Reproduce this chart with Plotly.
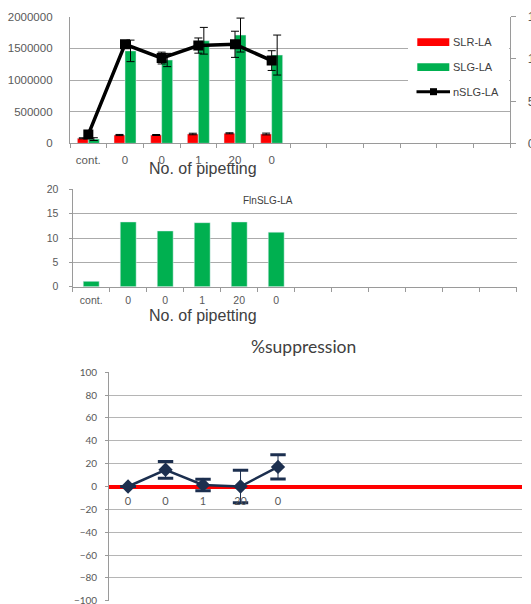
import plotly.graph_objects as go

# ---- data ----
categories = ["cont.", "0", "0", "1", "20", "0"]
slr = [79000, 131000, 131000, 147000, 158000, 147000]
slr_err = [8000, 9000, 8000, 12000, 8000, 14000]
slg = [66000, 1460000, 1316000, 1620000, 1710000, 1394000]
slg_err = [22000, 170000, 105000, 211000, 268000, 316000]
nslg = [1.05, 11.73, 10.1, 11.58, 11.73, 9.8]
nslg_err = [0.3, 0.4, 0.7, 0.9, 1.55, 1.17]

fln_slg = [1.1, 13.3, 11.45, 13.15, 13.3, 11.2]

supp_labels = ["0", "0", "1", "20", "0"]
supp = [0, 14.65, 1.35, 0, 17.15]
supp_err = [0, 7.35, 5.1, 14.2, 10.65]

W, H = 531, 604


def px(x):
    return x / W


def py(y):
    return 1 - y / H


GRID = "#ababab"
AXIS = "#9a9a9a"
TICKC = "#595959"
NAVY = "#1c2f4f"

xs_top = list(range(len(categories)))
xs_bot = list(range(len(supp_labels)))

fig = go.Figure()

# ---- top panel: SLR / SLG bars, nSLG line on secondary axis ----
fig.add_trace(go.Bar(
    x=xs_top, y=slr, name="SLR-LA", marker_color="#ff0000",
    error_y=dict(type="data", array=slr_err, color="black", thickness=1, width=4),
    xaxis="x", yaxis="y"))
fig.add_trace(go.Bar(
    x=xs_top, y=slg, name="SLG-LA", marker_color="#00b050",
    error_y=dict(type="data", array=slg_err, color="black", thickness=1, width=4),
    xaxis="x", yaxis="y"))
fig.add_trace(go.Scatter(
    x=xs_top, y=nslg, name="nSLG-LA", mode="lines+markers",
    line=dict(color="black", width=3.5),
    marker=dict(symbol="square", size=10, color="black"),
    error_y=dict(type="data", array=nslg_err, color="black", thickness=1, width=4),
    xaxis="x", yaxis="y2"))

# ---- middle panel: FlnSLG bars ----
fig.add_trace(go.Bar(
    x=xs_top, y=fln_slg, name="FlnSLG-LA", marker_color="#00b050", width=0.43,
    xaxis="x2", yaxis="y3"))

# ---- bottom panel: %suppression ----
supp_hi = [v + e for v, e in zip(supp, supp_err)]
supp_lo = [v - e for v, e in zip(supp, supp_err)]
fig.add_trace(go.Scatter(
    x=xs_bot, y=supp, mode="lines",
    line=dict(color=NAVY, width=0),
    error_y=dict(type="data", array=supp_err, color=NAVY, thickness=1, width=0),
    xaxis="x3", yaxis="y4"))
fig.add_trace(go.Scatter(
    x=xs_bot + xs_bot, y=supp_hi + supp_lo, mode="markers",
    marker=dict(symbol="line-ew", size=11, line=dict(color=NAVY, width=3)),
    xaxis="x3", yaxis="y4"))
fig.add_trace(go.Scatter(
    x=xs_bot, y=supp, mode="lines+markers",
    line=dict(color=NAVY, width=2.5),
    marker=dict(symbol="diamond", size=11, color=NAVY),
    xaxis="x3", yaxis="y4"))

fig.update_layout(
    width=W, height=H,
    margin=dict(l=0, r=0, t=0, b=0),
    paper_bgcolor="white", plot_bgcolor="white",
    showlegend=False,
    barmode="group", bargap=0.4, bargroupgap=0,
    font=dict(family="Liberation Sans", color=TICKC),
    # top
    xaxis=dict(
        domain=[px(70), px(510)], anchor="y", range=[-0.5, 11.5], automargin=False,
        tickmode="array", tickvals=xs_top, ticktext=categories,
        ticks="outside", ticklen=6, tickcolor="rgba(0,0,0,0)",
        minor=dict(tickmode="linear", tick0=-0.5, dtick=1, ticks="outside",
                   ticklen=4, tickcolor=AXIS, tickwidth=1),
        showgrid=False, zeroline=False,
        showline=True, linecolor=AXIS, linewidth=1.3,
        tickfont=dict(family="Liberation Sans", size=11.5, color=TICKC),
    ),
    yaxis=dict(
        domain=[py(143.3), py(16.7)], anchor="x", range=[0, 2000000], automargin=False,
        dtick=500000, tickformat="d",
        showgrid=True, gridcolor=GRID, gridwidth=1.3, zeroline=False,
        showline=True, linecolor=AXIS, linewidth=1.3,
        ticks="", ticklabelstandoff=14,
        tickfont=dict(family="Liberation Sans", size=11.5, color=TICKC),
    ),
    yaxis2=dict(
        overlaying="y", side="right", anchor="x", range=[0, 15], dtick=5,
        automargin=False, ticklabeloverflow="allow",
        showgrid=False, zeroline=False,
        showline=True, linecolor=AXIS, linewidth=1.3,
        ticks="outside", ticklen=5, tickcolor=AXIS,
        ticklabelstandoff=9,
        tickfont=dict(family="Liberation Sans", size=13, color=TICKC),
    ),
    # middle
    xaxis2=dict(
        domain=[px(72.7), px(516.7)], anchor="y3", range=[-0.5, 11.5], automargin=False,
        tickmode="array", tickvals=xs_top, ticktext=categories,
        ticks="outside", ticklen=4, tickcolor="rgba(0,0,0,0)",
        minor=dict(tickmode="linear", tick0=-0.5, dtick=1, ticks="outside",
                   ticklen=4, tickcolor=AXIS, tickwidth=1),
        showgrid=False, zeroline=False,
        showline=True, linecolor=AXIS, linewidth=1.3,
        tickfont=dict(family="Liberation Sans", size=10.5, color=TICKC),
    ),
    yaxis3=dict(
        domain=[py(286.7), py(189.3)], anchor="x2", range=[0, 20], dtick=5,
        automargin=False,
        showgrid=True, gridcolor=GRID, gridwidth=1.3, zeroline=False,
        showline=True, linecolor=AXIS, linewidth=1.3,
        ticks="outside", ticklen=3, tickcolor=AXIS, ticklabelstandoff=8,
        tickfont=dict(family="Liberation Sans", size=10.5, color=TICKC),
    ),
    # bottom
    xaxis3=dict(
        domain=[px(109.3), px(521.7)], anchor="free", automargin=False,
        position=(py(372.3) + py(600.7)) / 2, range=[-0.5, 10.5],
        tickmode="array", tickvals=xs_bot, ticktext=supp_labels,
        ticks="outside", ticklen=4, tickcolor="rgba(0,0,0,0)",
        showgrid=False, zeroline=False, showline=False,
        tickfont=dict(family="Lato", size=11, color=TICKC),
    ),
    yaxis4=dict(
        domain=[py(600.7), py(372.3)], anchor="x3", range=[-100, 100], dtick=20,
        automargin=False, ticklabeloverflow="allow",
        showgrid=True, gridcolor="#b5b5b5", gridwidth=1.3,
        zeroline=True, zerolinecolor="#ff0000", zerolinewidth=4,
        showline=True, linecolor=AXIS, linewidth=1.3,
        ticks="outside", ticklen=3, tickcolor=AXIS, ticklabelstandoff=6,
        tickfont=dict(family="Lato", size=10, color=TICKC),
    ),
)

# ---- titles and labels ----
annots = [
    dict(text="No. of pipetting", x=px(203.3), y=py(168),
         font=dict(family="Liberation Sans", size=16, color="#404040")),
    dict(text="No. of pipetting", x=px(203.3), y=py(315),
         font=dict(family="Liberation Sans", size=16, color="#404040")),
    dict(text="FlnSLG-LA", x=px(267.5), y=py(200.7),
         font=dict(family="Liberation Sans", size=10, color="#404040")),
    dict(text="%suppression", x=px(303), y=py(346.7),
         font=dict(family="Lato", size=17.5, color="#404040")),
]
for a in annots:
    fig.add_annotation(xref="paper", yref="paper", showarrow=False,
                       xanchor="center", yanchor="middle", **a)

# ---- legend of the top panel ----
legend_items = [("SLR-LA", 41.7), ("SLG-LA", 66.7), ("nSLG-LA", 91.7)]
fig.add_shape(type="rect", xref="paper", yref="paper",
              x0=px(408), x1=px(509), y0=py(107), y1=py(19),
              fillcolor="white", line=dict(width=0), layer="above")
fig.add_shape(type="rect", xref="paper", yref="paper",
              x0=px(417.3), x1=px(449.3), y0=py(46), y1=py(38.3),
              fillcolor="#ff0000", line=dict(width=0), layer="above")
fig.add_shape(type="rect", xref="paper", yref="paper",
              x0=px(417.3), x1=px(449.3), y0=py(71), y1=py(63.3),
              fillcolor="#00b050", line=dict(width=0), layer="above")
fig.add_shape(type="line", xref="paper", yref="paper",
              x0=px(416.5), x1=px(450), y0=py(91.7), y1=py(91.7),
              line=dict(color="black", width=3), layer="above")
fig.add_shape(type="rect", xref="paper", yref="paper",
              x0=px(430), x1=px(437), y0=py(95.2), y1=py(88.2),
              fillcolor="black", line=dict(width=0), layer="above")
for label, yy in legend_items:
    fig.add_annotation(text=label, xref="paper", yref="paper", showarrow=False,
                       x=px(451), y=py(yy), xanchor="left", yanchor="middle",
                       font=dict(family="Liberation Sans", size=11, color="#404040"))

fig.write_html("out.html")
